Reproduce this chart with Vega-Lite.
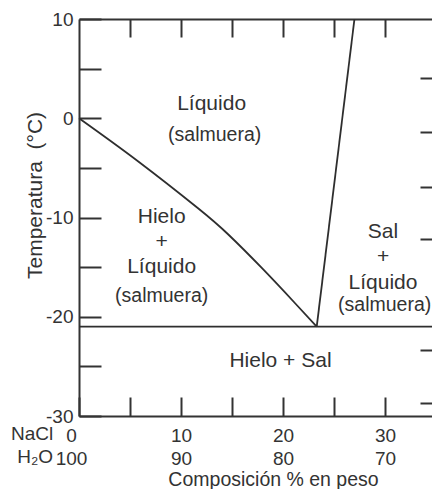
{
  "$schema": "https://vega.github.io/schema/vega-lite/v6.json",
  "width": 353,
  "height": 397,
  "autosize": {"type": "none"},
  "padding": {"left": 79, "top": 19, "right": 0, "bottom": 73},
  "background": "white",
  "config": {
    "view": {"stroke": null},
    "font": "Liberation Sans",
    "axis": {
      "labelFont": "Liberation Sans",
      "titleFont": "Liberation Sans",
      "titleFontWeight": "normal",
      "labelColor": "#333333",
      "titleColor": "#333333",
      "domainColor": "#333333",
      "tickColor": "#333333",
      "grid": false
    }
  },
  "datasets": {
    "lines": [
      {"curve": "liquidus", "nacl": 0, "t": 0},
      {"curve": "liquidus", "nacl": 5.78, "t": -4.33},
      {"curve": "liquidus", "nacl": 11.67, "t": -9.07},
      {"curve": "liquidus", "nacl": 14.61, "t": -11.69},
      {"curve": "liquidus", "nacl": 17.94, "t": -15.11},
      {"curve": "liquidus", "nacl": 21.18, "t": -18.64},
      {"curve": "liquidus", "nacl": 23.3, "t": -21.0},
      {"curve": "solubilidad", "nacl": 23.3, "t": -21.0},
      {"curve": "solubilidad", "nacl": 27.0, "t": 10},
      {"curve": "eutectico", "nacl": 0, "t": -21.0},
      {"curve": "eutectico", "nacl": 34.6, "t": -21.0}
    ],
    "big": [
      {"label": "Líquido", "nacl": 13.0, "t": 1.44},
      {"label": "Hielo", "nacl": 8.1, "t": -9.9},
      {"label": "+", "nacl": 8.1, "t": -12.45},
      {"label": "Líquido", "nacl": 8.1, "t": -15.0},
      {"label": "Sal", "nacl": 29.8, "t": -11.51},
      {"label": "+", "nacl": 29.8, "t": -13.98},
      {"label": "Líquido", "nacl": 29.8, "t": -16.6},
      {"label": "Hielo + Sal", "nacl": 19.75, "t": -24.41}
    ],
    "small": [
      {"label": "(salmuera)", "nacl": 13.3, "t": -1.69},
      {"label": "(salmuera)", "nacl": 8.1, "t": -17.9},
      {"label": "(salmuera)", "nacl": 29.96, "t": -18.82}
    ],
    "rows": [
      {"label": "NaCl", "nacl": -4.6, "t": -31.8},
      {"label": "H₂O", "nacl": -4.3, "t": -34.1}
    ]
  },
  "resolve": {"axis": {"x": "independent", "y": "independent"}},
  "layer": [
    {
      "data": {"name": "lines"},
      "mark": {"type": "line", "color": "#2e2e2e", "strokeWidth": 1.8, "interpolate": "natural"},
      "encoding": {
        "x": {
          "field": "nacl", "type": "quantitative",
          "scale": {"domain": [0, 34.6], "nice": false, "zero": false},
          "axis": {
            "orient": "bottom",
            "values": [0, 5, 10, 15, 20, 25, 30],
            "tickSize": -19, "tickWidth": 2, "domainWidth": 2,
            "labelExpr": "datum.value % 10 == 0 ? [datum.value + '', (100 - datum.value) + ''] : ''",
            "labelFontSize": 19, "labelLineHeight": 23, "labelPadding": 29,
            "labelFlush": false, "labelOverlap": false,
            "labelOffset": {"condition": {"test": "datum.value == 0", "value": -8}, "value": 0},
            "title": "Composición % en peso", "titleFontSize": 19.5,
            "titleX": 194, "titleY": 69, "titleBaseline": "alphabetic", "titleAlign": "center"
          }
        },
        "y": {
          "field": "t", "type": "quantitative",
          "scale": {"domain": [-30, 10], "nice": false, "zero": false},
          "axis": {
            "orient": "left",
            "values": [-30, -25, -20, -15, -10, -5, 0, 5, 10],
            "tickSize": -22, "tickWidth": 2, "domainWidth": 2,
            "labelExpr": "datum.value % 10 == 0 ? datum.value + '' : ''",
            "labelFontSize": 19, "labelPadding": 28,
            "labelFlush": false, "labelOverlap": false,
            "title": "Temperatura\u00a0\u00a0(°C)", "titleFontSize": 21,
            "titleX": -38, "titleY": 176, "titleBaseline": "alphabetic", "titleAlign": "center", "titleAngle": -90
          }
        },
        "detail": {"field": "curve"}
      }
    },
    {
      "data": {"name": "big"},
      "mark": {"type": "text", "fontSize": 21, "color": "#333333", "baseline": "middle", "align": "center"},
      "encoding": {
        "x": {
          "field": "nacl", "type": "quantitative",
          "axis": {
            "orient": "top", "values": [5, 10, 15, 20, 25, 30],
            "tickSize": -18, "tickWidth": 2, "domainWidth": 2,
            "labels": false, "title": null
          }
        },
        "y": {
          "field": "t", "type": "quantitative",
          "axis": {
            "orient": "right", "values": [4.1, -1.4, -6.9, -12.2, -23.4, -28.7],
            "tickSize": -12, "tickWidth": 2, "domain": false,
            "labels": false, "title": null
          }
        },
        "text": {"field": "label"}
      }
    },
    {
      "data": {"name": "small"},
      "mark": {"type": "text", "fontSize": 19.5, "color": "#333333", "baseline": "middle", "align": "center"},
      "encoding": {
        "x": {"field": "nacl", "type": "quantitative", "axis": null},
        "y": {"field": "t", "type": "quantitative", "axis": null},
        "text": {"field": "label"}
      }
    },
    {
      "data": {"name": "rows"},
      "mark": {"type": "text", "fontSize": 19, "color": "#333333", "baseline": "middle", "align": "center"},
      "encoding": {
        "x": {"field": "nacl", "type": "quantitative", "axis": null},
        "y": {"field": "t", "type": "quantitative", "axis": null},
        "text": {"field": "label"}
      }
    }
  ]
}
